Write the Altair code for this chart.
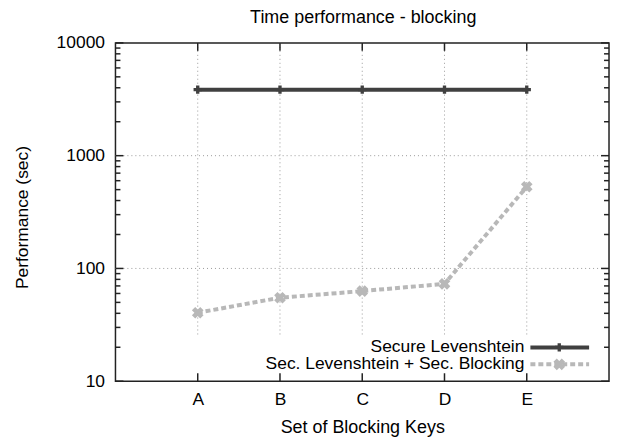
import altair as alt
import pandas as pd

# ---- data ----
chart_title = "Time performance - blocking"
categories = ["A", "B", "C", "D", "E"]
secure_levenshtein = [3850, 3850, 3850, 3850, 3850]
sec_blocking = [40.5, 55, 63, 73, 530]
series_names = ["Secure Levenshtein", "Sec. Levenshtein + Sec. Blocking"]
y_major = [10, 100, 1000, 10000]
y_grid = [100, 1000]
y_minor = [m * d for d in (10, 100, 1000) for m in range(2, 10)]

FONT = "Liberation Sans"
W, H = 496, 340
DARK = "#404040"
LIGHT = "#b8b8b8"
AXC = "#222222"
GRIDC = "#9a9a9a"

xs = [i + 1 for i in range(len(categories))]
df_secure = pd.DataFrame({"x": xs, "value": secure_levenshtein, "cat": categories})
df_block = pd.DataFrame({"x": xs, "value": sec_blocking, "cat": categories})
df_cat = pd.DataFrame({"x": xs})
df_major = pd.DataFrame({"value": y_major})
df_minor = pd.DataFrame({"value": y_minor})
df_grid = pd.DataFrame({"value": y_grid})

label_expr = "[" + ",".join("'%s'" % c for c in categories) + "][datum.value - 1]"

x_scale = alt.Scale(domain=[0, len(categories) + 1], nice=False, zero=False)
y_scale = alt.Scale(type="log", domain=[10, 10000], nice=False)

x_axis = alt.Axis(values=xs, labelExpr=label_expr, ticks=False, tickSize=0,
                  domain=False, grid=False, labelFont=FONT, labelFontSize=17.5,
                  labelColor="#000", labelPadding=9,
                  title="Set of Blocking Keys", titleFont=FONT, titleFontSize=18,
                  titleFontWeight="normal", titleColor="#000",
                  titleY=47, titleBaseline="middle")
y_axis = alt.Axis(values=y_major, format="d", ticks=False, tickSize=0,
                  domain=False, grid=False, labelFont=FONT, labelFontSize=17.5,
                  labelColor="#000", labelPadding=11,
                  title="Performance (sec)", titleFont=FONT, titleFontSize=17.5,
                  titleFontWeight="normal", titleColor="#000",
                  titleX=-93, titleY=175, titleAngle=270,
                  titleBaseline="middle", titleAlign="center")

X = alt.X("x:Q", scale=x_scale, axis=x_axis)
Y = alt.Y("value:Q", scale=y_scale, axis=y_axis)

# title as a text mark above the plot area
title_layer = alt.Chart(pd.DataFrame({"t": [chart_title]})).mark_text(
    align="center", baseline="alphabetic", font=FONT, fontSize=18, color="#000").encode(
    text="t:N", x=alt.value(W / 2 + 1), y=alt.value(-19.5))

# grid
grid_v = alt.Chart(df_cat).mark_rule(color=GRIDC, strokeDash=[1, 3], strokeWidth=1).encode(
    x=X, y=alt.value(0), y2=alt.value(296))
grid_h = alt.Chart(df_grid).mark_rule(color=GRIDC, strokeDash=[1, 3], strokeWidth=1).encode(
    y=Y, x=alt.value(0), x2=alt.value(W))

# ticks (inward, mirrored)
tick_style = dict(color=AXC, strokeWidth=1.5)
xt_bottom = alt.Chart(df_cat).mark_rule(**tick_style).encode(x=X, y=alt.value(H), y2=alt.value(H - 8))
xt_top = alt.Chart(df_cat).mark_rule(**tick_style).encode(x=X, y=alt.value(0), y2=alt.value(8))
yt_left = alt.Chart(df_major).mark_rule(**tick_style).encode(y=Y, x=alt.value(0), x2=alt.value(8))
yt_right = alt.Chart(df_major).mark_rule(**tick_style).encode(y=Y, x=alt.value(W), x2=alt.value(W - 8))
ym_left = alt.Chart(df_minor).mark_rule(**tick_style).encode(y=Y, x=alt.value(0), x2=alt.value(5))
ym_right = alt.Chart(df_minor).mark_rule(**tick_style).encode(y=Y, x=alt.value(W), x2=alt.value(W - 5))

# series
line_secure = alt.Chart(df_secure).mark_line(color=DARK, strokeWidth=4).encode(x=X, y=Y)
pts_secure = alt.Chart(df_secure).mark_point(shape="cross", filled=True, color=DARK, size=70, opacity=1).encode(x=X, y=Y)
line_block = alt.Chart(df_block).mark_line(color=LIGHT, strokeWidth=4, strokeDash=[5, 3]).encode(x=X, y=Y)
pts_block = alt.Chart(df_block).mark_point(shape="cross", angle=45, filled=True, color=LIGHT, size=140, opacity=1).encode(x=X, y=Y)

# legend (gnuplot style: label left of sample)
leg_y = [306, 323]
leg_layers = []
for name, ly, col, dash, ang, sz in [
    (series_names[0], leg_y[0], DARK, [1, 0], 0, 70),
    (series_names[1], leg_y[1], LIGHT, [5, 3], 45, 140),
]:
    d = pd.DataFrame({"name": [name]})
    leg_layers.append(alt.Chart(d).mark_text(align="right", baseline="middle", font=FONT,
                                             fontSize=17.5, color="#000").encode(
        text="name:N", x=alt.value(411), y=alt.value(ly)))
    leg_layers.append(alt.Chart(d).mark_rule(color=col, strokeWidth=4, strokeDash=dash).encode(
        x=alt.value(417), x2=alt.value(476), y=alt.value(ly)))
    leg_layers.append(alt.Chart(d).mark_point(shape="cross", angle=ang, filled=True, color=col,
                                              size=sz, opacity=1).encode(
        x=alt.value(446), y=alt.value(ly)))

chart = alt.layer(
    grid_v, grid_h, xt_bottom, xt_top, yt_left, yt_right, ym_left, ym_right,
    line_block, pts_block, line_secure, pts_secure, title_layer, *leg_layers
).properties(
    width=W, height=H,
    autosize=alt.AutoSizeParams(type="none"),
    padding={"left": 108, "top": 34, "right": 2, "bottom": 58},
).configure_view(stroke=AXC, strokeWidth=1.5)

chart.save("out.html", embed_options={"renderer": "svg", "actions": False})
